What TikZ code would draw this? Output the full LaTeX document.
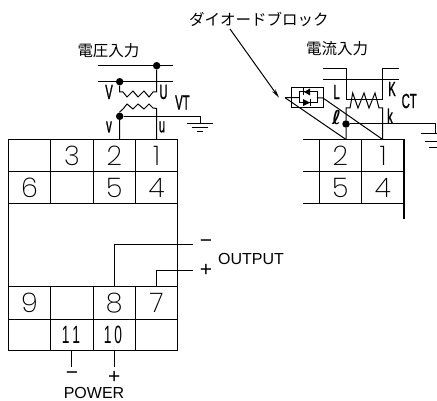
\documentclass[tikz,border=0pt]{standalone}
\usepackage{fontspec}
\setmainfont{Liberation Sans}
\newfontfamily\cjk{Noto Sans CJK JP}
\newfontfamily\digitf{Poppins ExtraLight}
\newfontfamily\labf{Liberation Sans}[FakeStretch=0.55,FakeBold=1]
\newfontfamily\talf{Liberation Sans}[FakeStretch=0.55]
\newfontfamily\ellf{DejaVu Sans Bold}
\usetikzlibrary{arrows.meta}
\tikzset{
  wire/.style={line width=1pt,line join=miter},
  frame/.style={line width=1.2pt},
  inner grid/.style={line width=1pt},
  dig/.style={font=\digitf\fontsize{27}{27}\selectfont,inner sep=0pt},
  cond/.style={font=\labf\fontsize{20.5}{20.5}\selectfont,inner sep=0pt},
  tall/.style={font=\talf\fontsize{25}{25}\selectfont,inner sep=0pt},
  title/.style={font=\cjk\fontsize{15.5}{15.5}\selectfont,inner sep=0pt},
  lab/.style={font=\fontsize{16}{16}\selectfont,inner sep=0pt},
  sign/.style={font=\fontsize{21}{21}\selectfont,inner sep=0pt},
  dot/.style={circle,fill=black,inner sep=0pt,minimum size=7.5pt},
}
\begin{document}
\begin{tikzpicture}[x=1pt,y=-1pt]
\useasboundingbox (0,0) rectangle (437,401);
% left terminal block
\draw[frame] (8.3,139.5) rectangle (177.7,350.7);
\draw[inner grid] (8.3,172)--(177.7,172) (8.3,203.5)--(177.7,203.5) (8.3,286.7)--(177.7,286.7) (8.3,319)--(177.7,319);
\draw[inner grid] (50.7,139.5)--(50.7,203.5) (93.3,139.5)--(93.3,203.5) (135.7,139.5)--(135.7,203.5);
\draw[inner grid] (50.7,286.7)--(50.7,350.7) (93.3,286.7)--(93.3,350.7) (135.7,286.7)--(135.7,350.7);
\node[dig] (n3) at (72,156) {3};
\node[dig] (n2) at (114.3,156) {2};
\node[dig] (n1) at (156.7,156) {1};
\node[dig] (n6) at (29.5,188) {6};
\node[dig] (n5) at (114.3,188) {5};
\node[dig] (n4) at (156.7,188) {4};
\node[dig] (n9) at (29.5,303) {9};
\node[dig] (n8) at (114.3,303) {8};
\node[dig] (n7) at (156.7,303) {7};
\node[tall] (n11) at (71,335) {1\kern3pt1};
\node[tall] (n10) at (113,335) {1\kern3pt0};
% right terminal block
\draw[frame] (303,139.5)--(404,139.5)--(404,219);
\draw[inner grid] (319,139.5)--(319,203.5) (361.7,139.5)--(361.7,203.5);
\draw[inner grid] (303,172)--(404,172) (303,203.5)--(404,203.5);
\node[dig] (r2) at (340.3,156) {2};
\node[dig] (r1) at (383,156) {1};
\node[dig] (r5) at (340.3,188) {5};
\node[dig] (r4) at (383,188) {4};
% output and power
\coordinate (t8) at (114.3,286.7);
\coordinate (t7) at (156.7,286.7);
\coordinate (t11) at (71.7,350.7);
\coordinate (t10) at (114.3,350.7);
\coordinate (om) at (193,244.3);
\coordinate (op) at (193,271);
\draw[wire] (t8) |- (om);
\draw[wire] (t7) |- (op);
\draw[wire] (t11) -- (71.7,366.7);
\draw[wire] (t10) -- (114.3,366.7);
\node[sign] (minus1) at (206,243.5) {−};
\node[sign] (plus1) at (206,270.5) {+};
\node[lab,anchor=west] (output) at (218,259) {OUTPUT};
\node[sign] (minus2) at (72,376) {−};
\node[sign] (plus2) at (114.3,377) {+};
\node[lab] (power) at (94,393) {POWER};
% voltage input
\node[title] (vin) at (108.5,51) {\cjk 電圧入力};
\coordinate (vl1) at (98,65.7); \coordinate (vr1) at (173,65.7);
\coordinate (vl2) at (98,81.7); \coordinate (vr2) at (173,81.7);
\draw[wire] (vl1)--(vr1) (vl2)--(vr2);
\node[dot] (vdot1) at (156.7,65.7) {};
\node[dot] (vdot2) at (119.7,81.7) {};
\node[dot] (vdot3) at (119.7,116.3) {};
\draw[wire] (vdot1) -- (156.7,92) -- (153,92) -- (149,97) -- (144,91) -- (138,97) -- (133,91) -- (127,97) -- (123,92) -- (119.7,92) -- (vdot2);
\draw[wire] (119.7,139.5) -- (vdot3) -- (119.7,112) -- (123,109) -- (127,104) -- (133,109) -- (138,104) -- (144,109) -- (149,104) -- (153,108) -- (156.7,108.5) -- (156.7,139.5);
\coordinate (vg) at (200,124);
\draw[wire] (vdot3) -| (vg);
\draw[wire] (187,124)--(213,124) (192,128)--(208,128) (197,132)--(203,132);
\node[cond] (lV) at (109,92) {V};
\node[cond] (lU) at (163.5,92) {U};
\node[cond] (lv) at (109,127) {v};
\node[cond] (lu) at (162,127) {u};
\node[cond,anchor=west] (lVT) at (175,102.5) {VT};
% current input
\node[title] (cin) at (337,49) {\cjk 電流入力};
\draw[wire] (323,68.3)--(346,68.3)--(346,100)--(382.7,100)--(382.7,68.3)--(399,68.3);
\draw[wire] (323,79.3)--(399,79.3);
\node[dot] (cdot) at (346,124) {};
\draw[wire] (346,139.5) -- (cdot) -- (346,108) -- (350,108) -- (352.7,93) -- (358,108) -- (364,93) -- (369,108) -- (375,93) -- (379,108) -- (382.7,108) -- (382.7,139.5);
\coordinate (cg) at (435,134);
\draw[wire] (cdot) -| (cg);
\draw[wire] (421,134)--(437,134) (425,141.7)--(437,141.7) (429,148)--(437,148);
\node[cond] (lL) at (336.5,92) {L};
\node[cond] (lK) at (392,89) {K};
\node[cond,anchor=west] (lCT) at (401.5,101) {CT};
\node[inner sep=0pt,font=\ellf\fontsize{19}{19}\selectfont] (ll) at (336.5,118) {ℓ};
\node[cond] (lk) at (390,116) {k};
% diode block
\draw[wire] (291.7,87.3) rectangle (323,108);
\draw[wire] (299,92)--(317,92)--(317,102.7)--(299,102.7)--cycle;
\coordinate (dl) at (285,97.7);
\coordinate (dr) at (323,98);
\draw[wire] (dl)--(299,97.7) (317,97.7)--(dr);
\draw[wire] (dl)--(346,139.5);
\draw[wire] (dr)--(382.7,139.5);
\fill (310,88.5)--(310,95.5)--(304,92)--cycle;
\draw[wire] (303.5,88.5)--(303.5,95.5);
\fill (303,99)--(303,106)--(310,102.7)--cycle;
\draw[wire] (310.5,99)--(310.5,106);
% callout
\node[title,anchor=west] (dtitle) at (189,19) {\cjk ダイオードブロック};
\coordinate (atip) at (279,97.7);
\draw[wire,-{Stealth[length=9pt,width=4pt]}] (230,29) -- (atip);
\end{tikzpicture}
\end{document}
